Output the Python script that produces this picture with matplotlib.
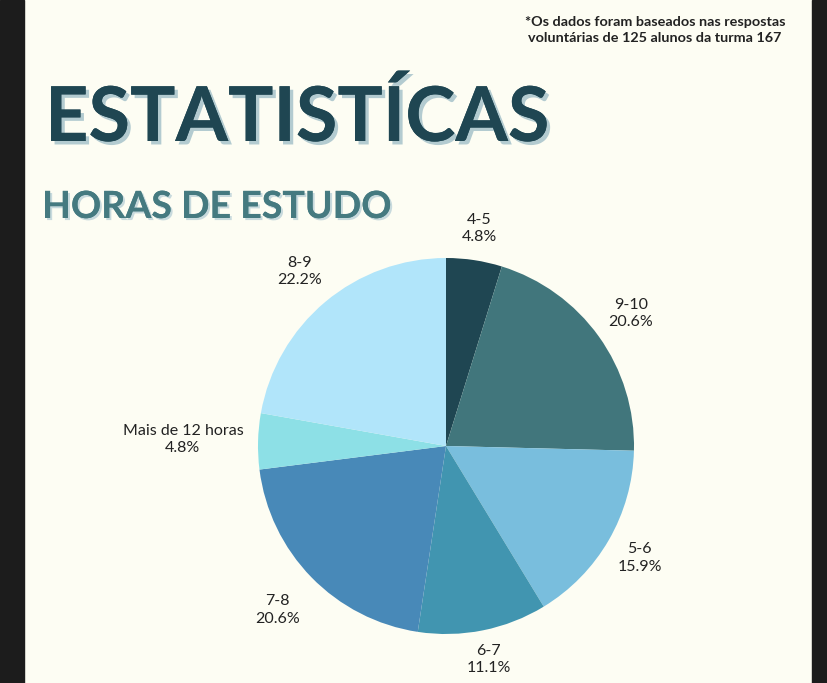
import matplotlib.pyplot as plt
import matplotlib.patheffects as pe
import numpy as np

# Dados (horas de estudo por dia, % dos alunos)
categorias = ['4-5', '9-10', '5-6', '6-7', '7-8', 'Mais de 12 horas', '8-9']
valores = [4.8, 20.6, 15.9, 11.1, 20.6, 4.8, 22.2]
cores = ['#1f4652', '#41767c', '#79bedd', '#4195b0', '#4889b8', '#8de0e6', '#b1e5fa']
dist_rotulo = [1.17, 1.21, 1.19, 1.16, 1.25, 1.40, 1.21]

titulo = 'ESTATISTÍCAS'
subtitulo = 'HORAS DE ESTUDO'
nota = '*Os dados foram baseados nas respostas\nvoluntárias de 125 alunos da turma 167'

W, H = 828, 683
fig = plt.figure(figsize=(W / 100, H / 100), dpi=100)
fig.patch.set_facecolor('#fdfdf3')
ax = fig.add_axes([0, 0, 1, 1])
ax.set_facecolor('#fdfdf3')

# Pizza
cx, cy, r = 446, H - 446, 188
wedges, _ = ax.pie(valores, colors=cores, startangle=90, counterclock=False,
                   center=(cx, cy), radius=r, wedgeprops={'linewidth': 0})

for w, cat, val, d in zip(wedges, categorias, valores, dist_rotulo):
    ang = np.deg2rad((w.theta1 + w.theta2) / 2)
    ax.text(cx + d * r * np.cos(ang), cy + d * r * np.sin(ang), f'{cat}\n{val}%',
            ha='center', va='center', fontsize=11.5, color='#222222',
            family='Lato', linespacing=1.3)

# Titulos
ax.text(45, H - 118, titulo, fontsize=54.5, fontweight='bold', family='Lato',
        color='#1f4652', va='center', ha='left',
        path_effects=[pe.withSimplePatchShadow(offset=(2.5, -2.5), shadow_rgbFace='#b3cbd0', alpha=1),
                      pe.Normal()])
ax.text(42, H - 207, subtitulo, fontsize=27, fontweight='bold', family='Lato',
        color='#457a80', va='center', ha='left',
        path_effects=[pe.withSimplePatchShadow(offset=(1.5, -1.5), shadow_rgbFace='#c8dadd', alpha=1),
                      pe.Normal()])
ax.text(655, H - 30, nota, fontsize=10.4, fontweight='bold', family='Lato',
        color='#222222', va='center', ha='center', linespacing=1.45)

# Bordas pretas laterais
ax.add_patch(plt.Rectangle((0, 0), 24, H, color='#1c1c1c', zorder=5))
ax.add_patch(plt.Rectangle((812, 0), W - 812, H, color='#1c1c1c', zorder=5))

ax.set_xlim(0, W)
ax.set_ylim(0, H)
ax.set_aspect('equal')
ax.axis('off')

fig.savefig('out.png', dpi=100, facecolor=fig.get_facecolor())
